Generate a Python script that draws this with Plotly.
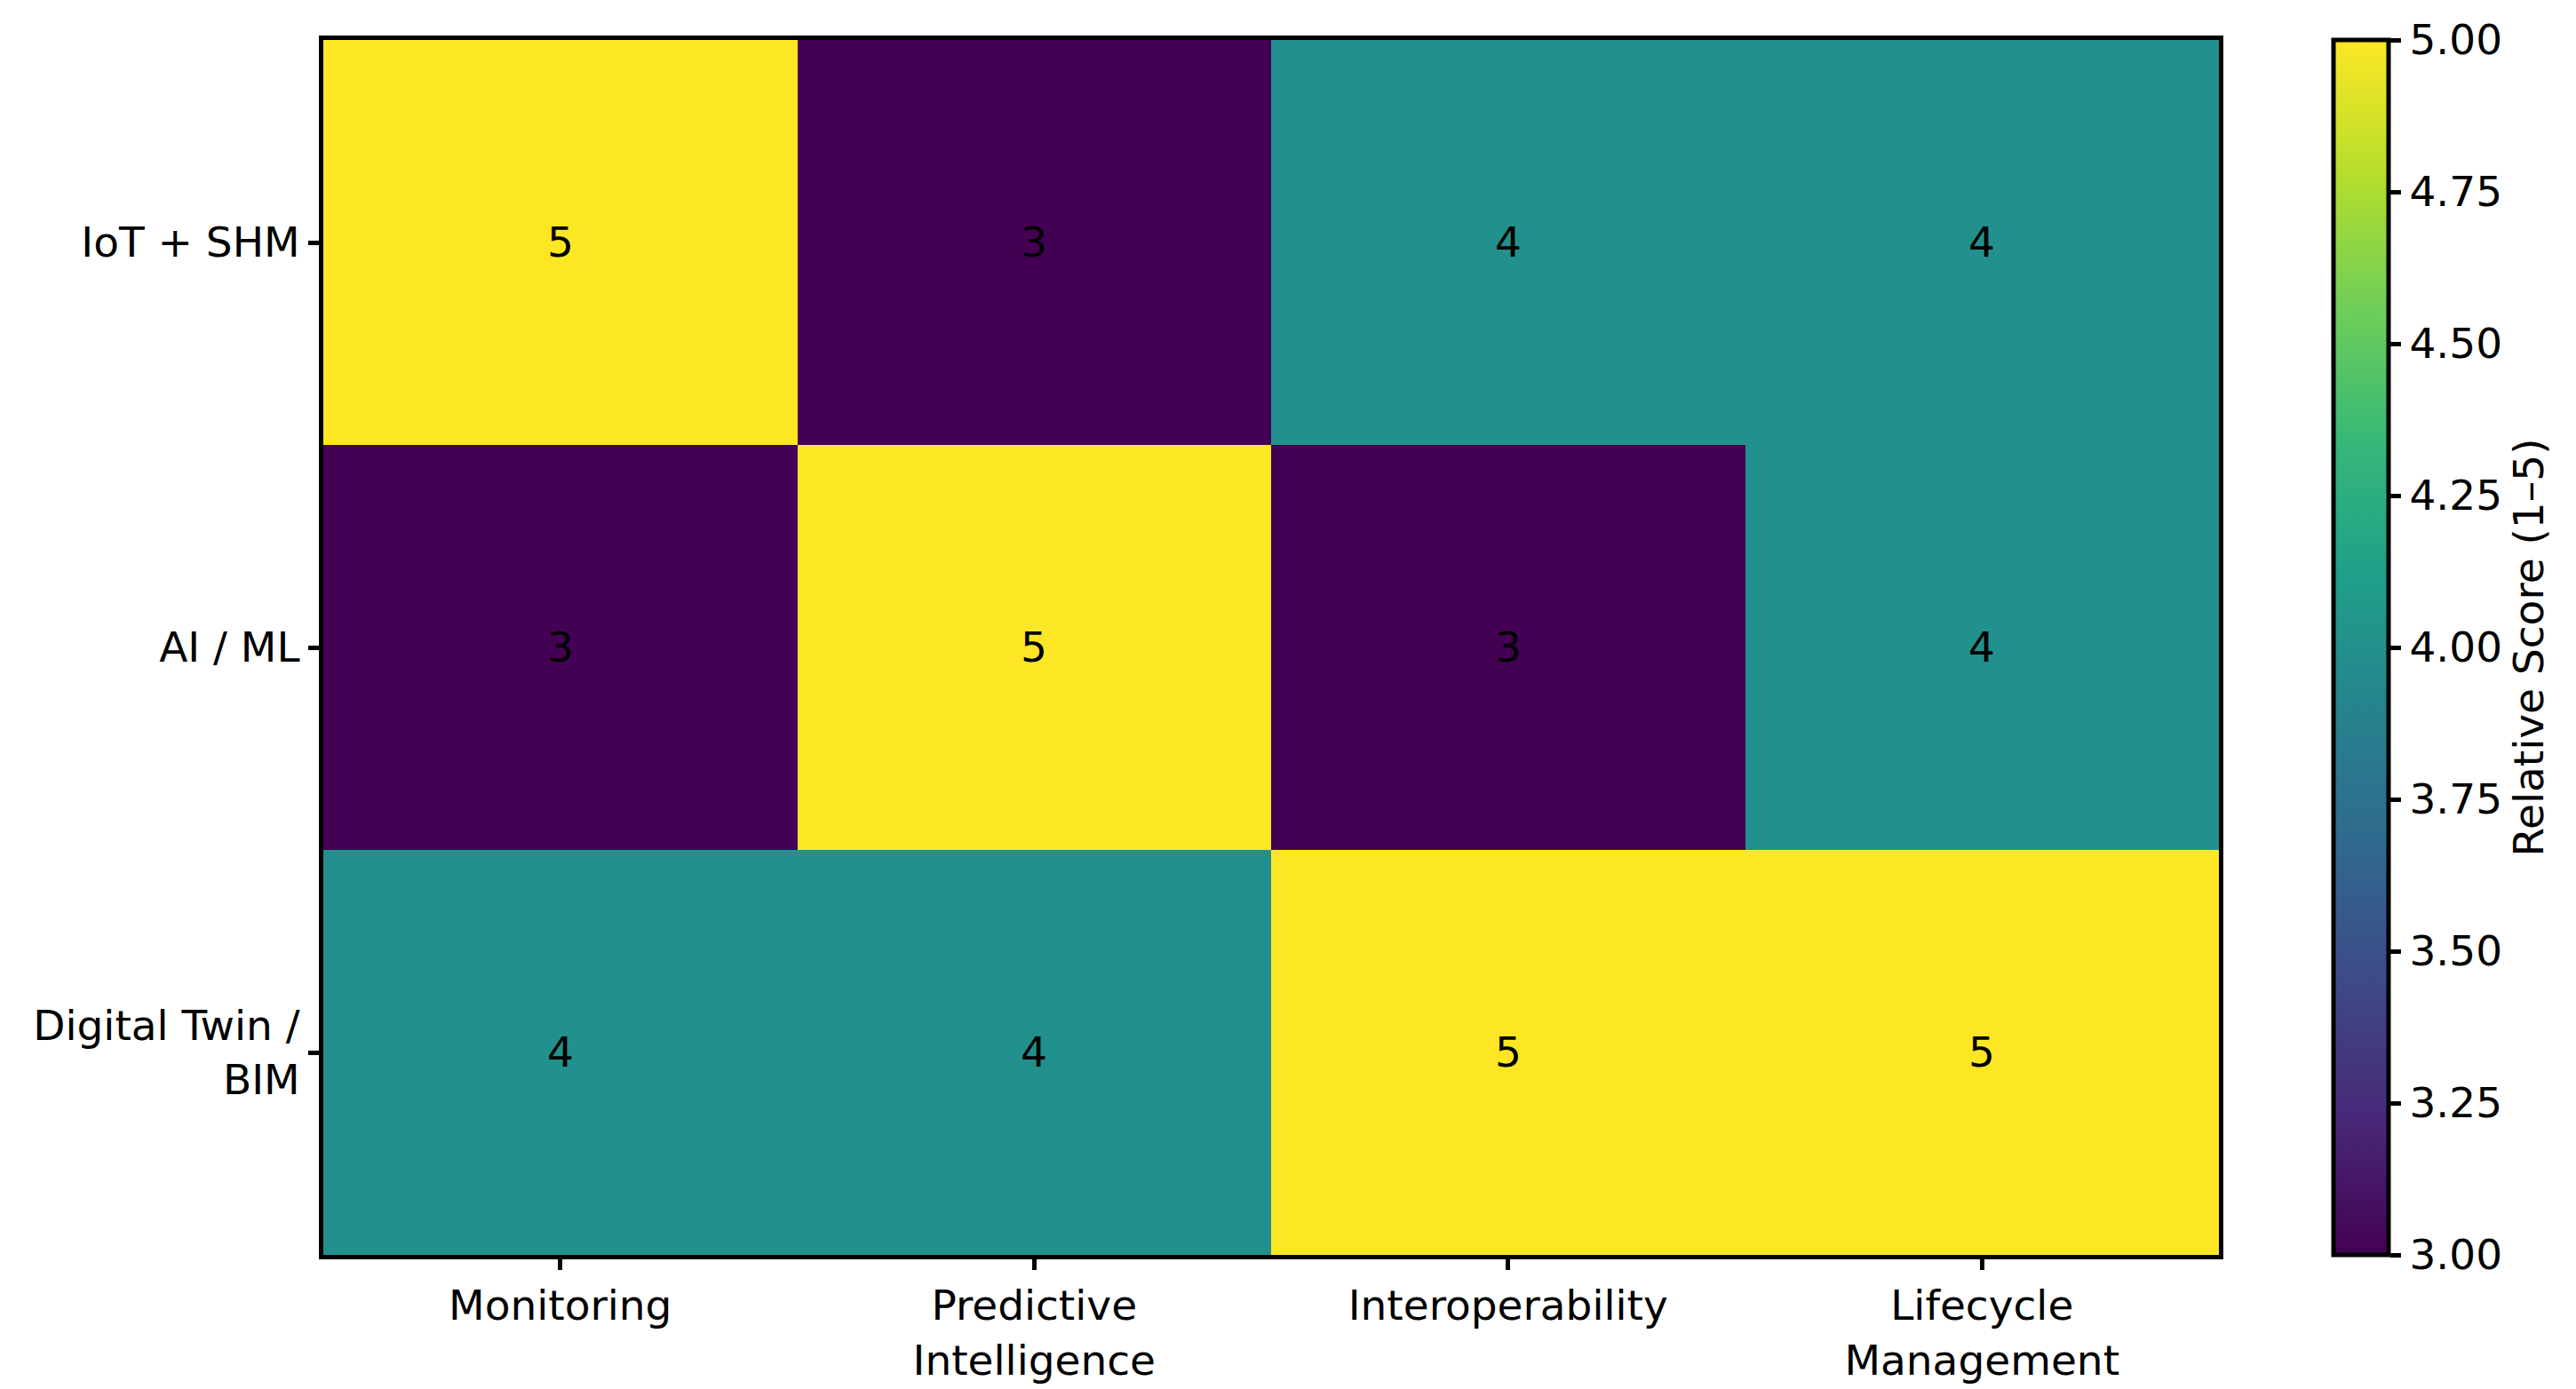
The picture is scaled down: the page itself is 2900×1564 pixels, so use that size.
import plotly.graph_objects as go

technologies = ["IoT + SHM", "AI / ML", "Digital Twin /<br>BIM"]
capabilities = ["Monitoring", "Predictive<br>Intelligence", "Interoperability", "Lifecycle<br>Management"]
iot_shm = [5, 3, 4, 4]
ai_ml = [3, 5, 3, 4]
digital_twin_bim = [4, 4, 5, 5]
cbar_ticks = [3.00, 3.25, 3.50, 3.75, 4.00, 4.25, 4.50, 4.75, 5.00]

z = [iot_shm, ai_ml, digital_twin_bim]

W, H = 2900, 1564
L, R, T, B = 356, 2490, 37, 1405
FONT = "DejaVu Sans"
FS = 47

fig = go.Figure(go.Heatmap(
    z=z, x=capabilities, y=technologies,
    colorscale="Viridis", zmin=3, zmax=5,
    texttemplate="%{z}", textfont=dict(family=FONT, size=FS, color="black"),
    xgap=0, ygap=0,
    colorbar=dict(
        thickness=62, thicknessmode="pixels",
        len=1, lenmode="fraction",
        x=(2619 - L) / (R - L), xanchor="left", xpad=0,
        y=0.5, yanchor="middle", ypad=0,
        outlinewidth=5, outlinecolor="black",
        ticks="outside", ticklen=12, tickwidth=5, tickcolor="black",
        tickvals=cbar_ticks, ticktext=[f"{v:.2f}" for v in cbar_ticks],
        tickfont=dict(family=FONT, size=FS, color="black"),
        title=dict(text="Relative Score (1–5)", side="right",
                   font=dict(family=FONT, size=FS, color="black")),
    ),
))

fig.update_layout(
    width=W, height=H,
    margin=dict(l=L, r=W - R, t=T, b=H - B, pad=0),
    paper_bgcolor="white", plot_bgcolor="white",
    font=dict(family=FONT, size=FS, color="black"),
)
fig.update_xaxes(showline=True, mirror=True, linewidth=5, linecolor="black",
                 ticks="outside", ticklen=12, tickwidth=5, tickcolor="black",
                 showgrid=False, zeroline=False,
                 tickfont=dict(family=FONT, size=FS, color="black"))
fig.update_yaxes(showline=True, mirror=True, linewidth=5, linecolor="black",
                 ticks="outside", ticklen=12, tickwidth=5, tickcolor="black",
                 showgrid=False, zeroline=False, autorange="reversed",
                 tickfont=dict(family=FONT, size=FS, color="black"))

fig.write_html("out.html")
